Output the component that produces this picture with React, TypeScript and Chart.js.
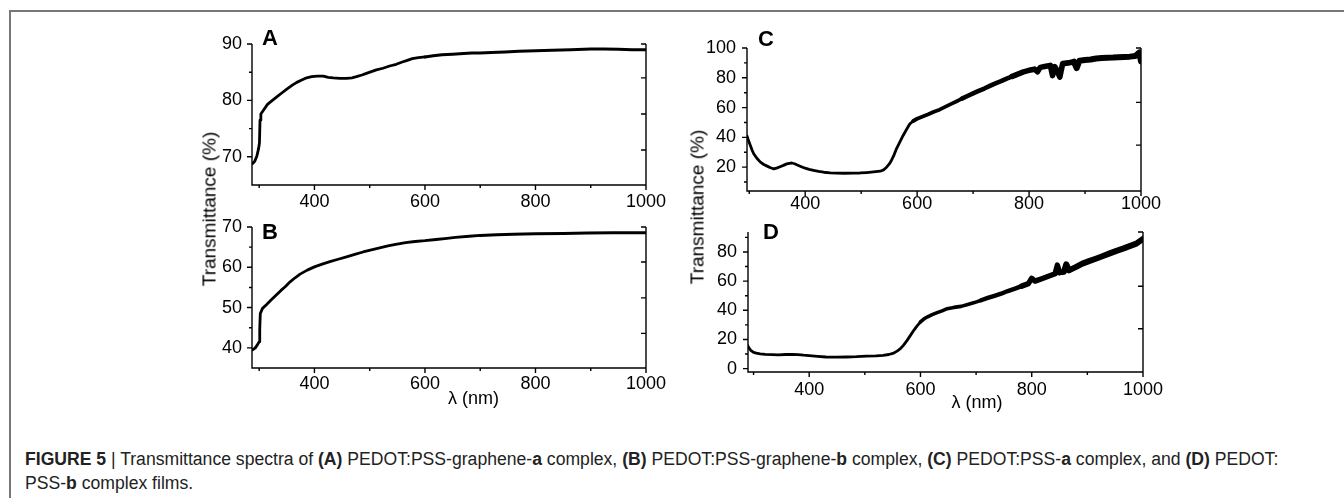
import React, { useEffect, useRef } from 'react';
import { Chart, registerables } from 'chart.js';

Chart.register(...registerables);

// ---------- data ----------
const xA = [288, 292, 296, 299, 300.5, 301.5, 303, 308, 315, 325, 333, 342, 350, 360, 368, 377, 386, 395, 405, 416, 425, 434, 446, 458, 468, 476, 486, 494, 503, 512, 524, 536, 548, 559, 568, 577, 588, 600, 615, 631, 650, 670, 685, 700, 720, 745, 770, 800, 830, 864, 900, 924, 950, 975, 1000];
const yA = [68.8, 69.2, 70.2, 71.5, 72.5, 76.5, 77.6, 78.3, 79.3, 80.1, 80.7, 81.4, 82.0, 82.7, 83.2, 83.6, 84.0, 84.2, 84.3, 84.3, 84.1, 84.0, 83.9, 83.9, 84.0, 84.2, 84.5, 84.8, 85.1, 85.4, 85.7, 86.1, 86.4, 86.8, 87.1, 87.4, 87.6, 87.7, 87.9, 88.1, 88.2, 88.3, 88.4, 88.4, 88.5, 88.6, 88.7, 88.8, 88.9, 89.0, 89.1, 89.1, 89.05, 89.0, 89.0];

const xB = [288, 293, 297, 300, 301, 302, 306, 313, 321, 330, 339, 348, 356, 365, 374, 387, 400, 414, 428, 443, 458, 473, 488, 503, 518, 533, 547, 565, 582, 600, 620, 640, 655, 680, 700, 730, 760, 800, 850, 894, 940, 970, 1000];
const yB = [39.5, 40.0, 40.8, 41.5, 44.5, 48.5, 49.8, 50.7, 51.8, 53.0, 54.2, 55.3, 56.4, 57.4, 58.3, 59.3, 60.1, 60.8, 61.4, 62.0, 62.6, 63.2, 63.8, 64.3, 64.8, 65.3, 65.7, 66.1, 66.4, 66.6, 66.9, 67.2, 67.4, 67.7, 67.9, 68.1, 68.2, 68.3, 68.4, 68.5, 68.6, 68.6, 68.6];

const xC = [296, 299, 302, 305, 308, 314, 320, 326, 332, 338, 344, 350, 355, 361, 367, 372, 376, 381, 385, 392, 400, 407, 415, 424, 433, 445, 456, 470, 486, 498, 510, 522, 534, 540, 545, 550, 554, 558, 563, 569, 575, 581, 587, 593, 600, 610, 620, 630, 640, 650, 660, 670, 680, 690, 700, 710, 720, 730, 740, 750, 760, 770, 780, 790, 800, 810, 815, 820, 830, 838, 842, 846, 850, 855, 860, 870, 880, 885, 890, 900, 910, 920, 930, 940, 950, 960, 970, 980, 990, 997, 1000];
const yC = [41.0, 37.5, 34.6, 31.5, 29.0, 25.8, 23.4, 21.8, 20.7, 19.6, 18.9, 19.5, 20.3, 21.2, 22.2, 22.6, 22.8, 22.3, 21.6, 20.5, 19.3, 18.5, 17.8, 17.1, 16.6, 16.2, 16.0, 15.9, 16.0, 16.1, 16.4, 16.8, 17.3, 18.2, 19.8, 22.0, 24.5, 27.5, 32.3, 36.8, 41.3, 45.3, 49.1, 51.0, 52.5, 54.0, 55.5, 57.2, 58.6, 60.5, 62.3, 64.1, 66.0, 67.8, 69.5, 71.2, 72.8, 74.6, 76.3, 77.8, 79.5, 81.0, 82.5, 84.0, 85.0, 85.8, 84.0, 87.0, 87.8, 88.3, 81.5, 87.5, 85.0, 80.5, 89.5, 90.0, 90.8, 86.5, 91.5, 92.0, 92.3, 93.0, 93.3, 93.5, 93.6, 93.8, 94.0, 94.2, 94.6, 97.0, 91.0];

const xD = [289, 292, 295, 300, 305, 312, 321, 333, 345, 358, 370, 380, 390, 400, 415, 430, 450, 467, 485, 503, 520, 533, 543, 552, 558, 564, 570, 576, 582, 588, 594, 600, 606, 612, 621, 630, 640, 648, 660, 673, 685, 697, 709, 721, 733, 745, 757, 770, 782, 794, 800, 806, 818, 830, 842, 846, 850, 858, 862, 867, 879, 891, 903, 915, 927, 939, 951, 964, 976, 988, 1000];
const yD = [16.0, 14.0, 12.6, 11.2, 10.6, 10.2, 9.8, 9.6, 9.5, 9.7, 9.8, 9.6, 9.2, 8.9, 8.4, 8.0, 7.9, 8.0, 8.2, 8.6, 8.8, 9.1, 9.7, 10.7, 12.0, 13.7, 16.3, 19.4, 22.8, 26.3, 29.3, 32.0, 34.0, 35.4, 37.0, 38.4, 39.8, 41.1, 42.0, 42.7, 44.0, 45.3, 46.9, 48.5, 49.9, 51.4, 53.2, 54.9, 56.6, 58.3, 62.0, 60.0, 61.7, 63.4, 65.1, 71.0, 66.0, 66.5, 71.5, 67.4, 69.6, 72.0, 73.7, 75.4, 77.1, 78.9, 80.6, 82.3, 84.0, 85.7, 89.0];

const xTickLabels = [400, 600, 800, 1000];
const xMinorTicks = [300, 500, 700, 900];
const yTicksA = [70, 80, 90];
const yMinorA = [75, 85];
const yTicksB = [40, 50, 60, 70];
const yMinorB = [45, 55, 65];
const yTicksC = [20, 40, 60, 80, 100];
const yMinorC = [10, 30, 50, 70, 90];
const yTicksD = [0, 20, 40, 60, 80];
const yMinorD = [10, 30, 50, 70, 90];
const rightTicksA = [90, 84, 77.6, 71.2];
const rightTicksB = [70, 61.3, 52.4, 43.6];
const rightTicksC = [100, 63.5, 34.8];
const rightTicksD = [93.7, 56.5, 27.4];

// ---------- layout ----------
const PAD_L = 70, PAD_T = 20, PAD_R = 40, PAD_B = 40;
const FONT = '"Liberation Sans", Arial, Helvetica, sans-serif';

type PanelCfg = {
  xs: number[]; ys: number[];
  left: number; top: number; right: number; bottom: number;
  xMin: number; yMin: number; yMax: number;
  yTicks: number[]; yMinor: number[]; rightTicks: number[];
  xPad: number; yPad: number;
  noise: [number, number][]; // [from nm, line width]
};

const panels: PanelCfg[] = [
  { xs: xA, ys: yA, left: 252, top: 44, right: 646, bottom: 185, xMin: 287, yMin: 65, yMax: 90,
    yTicks: yTicksA, yMinor: yMinorA, rightTicks: rightTicksA, xPad: 6, yPad: 10, noise: [[0, 2.8], [600, 3.0]] },
  { xs: xB, ys: yB, left: 252, top: 227, right: 646, bottom: 368, xMin: 287, yMin: 35, yMax: 70,
    yTicks: yTicksB, yMinor: yMinorB, rightTicks: rightTicksB, xPad: 5, yPad: 10, noise: [[0, 2.8], [700, 3.0]] },
  { xs: xC, ys: yC, left: 747, top: 48, right: 1141, bottom: 191, xMin: 296, yMin: 4, yMax: 100,
    yTicks: yTicksC, yMinor: yMinorC, rightTicks: rightTicksC, xPad: 2, yPad: 11,
    noise: [[0, 2.8], [590, 3.8], [680, 4.6], [770, 5.6], [880, 6.0]] },
  { xs: xD, ys: yD, left: 748, top: 232, right: 1143, bottom: 372, xMin: 290, yMin: -2.3, yMax: 93.7,
    yTicks: yTicksD, yMinor: yMinorD, rightTicks: rightTicksD, xPad: 7, yPad: 11,
    noise: [[0, 2.8], [600, 3.6], [700, 4.4], [780, 5.4], [850, 6.0]] },
];

function Panel({ cfg }: { cfg: PanelCfg }) {
  const ref = useRef<HTMLCanvasElement>(null);
  const w = cfg.right - cfg.left + PAD_L + PAD_R;
  const h = cfg.bottom - cfg.top + PAD_T + PAD_B;

  useEffect(() => {
    const axesPlugin = {
      id: 'axesBox',
      afterDatasetsDraw(chart: any) {
        const { ctx, chartArea: a, scales } = chart;
        const x = scales.x, y = scales.y;
        ctx.save();
        ctx.strokeStyle = '#000';
        ctx.lineWidth = 1.4;
        ctx.beginPath();
        ctx.moveTo(a.left, a.top);
        ctx.lineTo(a.left, a.bottom);
        ctx.lineTo(a.right, a.bottom);
        ctx.lineTo(a.right, a.top);
        for (const v of cfg.yTicks) {
          const p = y.getPixelForValue(v);
          ctx.moveTo(a.left - 5, p); ctx.lineTo(a.left, p);
        }
        for (const v of cfg.yMinor) {
          if (v <= cfg.yMin || v >= cfg.yMax) continue;
          const p = y.getPixelForValue(v);
          ctx.moveTo(a.left - 3, p); ctx.lineTo(a.left, p);
        }
        for (const v of xTickLabels) {
          const p = x.getPixelForValue(v);
          ctx.moveTo(p, a.bottom); ctx.lineTo(p, a.bottom + 5);
        }
        for (const v of xMinorTicks) {
          if (v <= cfg.xMin) continue;
          const p = x.getPixelForValue(v);
          ctx.moveTo(p, a.bottom); ctx.lineTo(p, a.bottom + 3);
        }
        for (const v of cfg.rightTicks) {
          const p = y.getPixelForValue(v);
          ctx.moveTo(a.right, p); ctx.lineTo(a.right - 5, p);
        }
        ctx.stroke();
        ctx.restore();
      },
    };

    const widthAt = (nm: number) => {
      let wd = cfg.noise[0][1];
      for (const [from, lw] of cfg.noise) if (nm >= from) wd = lw;
      return wd;
    };

    const chart = new Chart(ref.current!, {
      type: 'line',
      data: {
        datasets: [{
          data: cfg.xs.map((xv, i) => ({ x: xv, y: cfg.ys[i] })),
          borderColor: '#000',
          borderWidth: 2.8,
          pointRadius: 0,
          tension: 0,
          fill: false,
          borderCapStyle: 'round',
          borderJoinStyle: 'round',
          segment: {
            borderWidth: (c: any) => widthAt(cfg.xs[c.p0DataIndex]),
          },
        } as any],
      },
      options: {
        responsive: false,
        animation: false,
        events: [],
        layout: { padding: { left: 0, top: PAD_T, right: PAD_R, bottom: 0 } },
        plugins: { legend: { display: false }, tooltip: { enabled: false } },
        scales: {
          x: {
            type: 'linear',
            min: cfg.xMin,
            max: 1000,
            grid: { display: false, drawTicks: false },
            border: { display: false },
            ticks: {
              autoSkip: false, maxRotation: 0, padding: cfg.xPad,
              color: '#000', font: { family: FONT, size: 18 },
              callback: (v: any) => String(v),
            },
            afterBuildTicks: (s: any) => { s.ticks = xTickLabels.map((v) => ({ value: v })); },
            afterFit: (s: any) => { s.height = PAD_B; s.paddingLeft = 0; s.paddingRight = 0; },
          },
          y: {
            type: 'linear',
            min: cfg.yMin,
            max: cfg.yMax,
            grid: { display: false, drawTicks: false },
            border: { display: false },
            ticks: {
              autoSkip: false, padding: cfg.yPad,
              color: '#000', font: { family: FONT, size: 18 },
              callback: (v: any) => String(v),
            },
            afterBuildTicks: (s: any) => { s.ticks = cfg.yTicks.map((v) => ({ value: v })); },
            afterFit: (s: any) => { s.width = PAD_L; s.paddingTop = 0; s.paddingBottom = 0; },
          },
        },
      } as any,
      plugins: [axesPlugin],
    });
    return () => chart.destroy();
  }, []);

  return (
    <canvas
      ref={ref}
      width={w}
      height={h}
      style={{ position: 'absolute', left: cfg.left - PAD_L, top: cfg.top - PAD_T, width: w, height: h }}
    />
  );
}

// text placed by its baseline
function T({ x, y, size, bold, center, children, color }: any) {
  return (
    <div
      style={{
        position: 'absolute', left: x, top: y - size * 0.8465, fontSize: size, lineHeight: size + 'px',
        fontFamily: FONT, fontWeight: bold ? 700 : 400, whiteSpace: 'nowrap', color: color || '#000',
        transform: center ? 'translateX(-50%)' : undefined,
      }}
    >
      {children}
    </div>
  );
}

function VTitle({ cx, cy, size }: any) {
  return (
    <div
      style={{
        position: 'absolute', left: cx, top: cy, fontSize: size, lineHeight: 1, fontFamily: FONT,
        whiteSpace: 'nowrap', color: '#000', transform: 'translate(-50%, -50%) rotate(-90deg)',
      }}
    >
      Transmittance (%)
    </div>
  );
}

export default function App() {
  return (
    <div style={{ position: 'fixed', left: 0, top: 0, width: 1344, height: 498, background: '#fff', overflow: 'hidden' }}>
      <div style={{ position: 'absolute', left: 9, top: 10, width: 1340, height: 495, borderTop: '2px solid #777', borderLeft: '2px solid #777' }} />
      {panels.map((p, i) => <Panel key={i} cfg={p} />)}
      <T x={262} y={46} size={22} bold>A</T>
      <T x={262} y={240} size={22} bold>B</T>
      <T x={758} y={46.5} size={22} bold>C</T>
      <T x={763} y={240} size={22} bold>D</T>
      <T x={473.5} y={404.5} size={18} center>λ (nm)</T>
      <T x={977} y={408} size={18} center>λ (nm)</T>
      <VTitle cx={209} cy={209} size={19} />
      <VTitle cx={697} cy={207} size={19} />
      <T x={25} y={466} size={17.6} color="#222">
        <b>FIGURE 5</b> | Transmittance spectra of <b>(A)</b> PEDOT:PSS-graphene-<b>a</b> complex, <b>(B)</b> PEDOT:PSS-graphene-<b>b</b> complex, <b>(C)</b> PEDOT:PSS-<b>a</b> complex, and <b>(D)</b> PEDOT:
      </T>
      <T x={25} y={490} size={17.6} color="#222">
        PSS-<b>b</b> complex films.
      </T>
    </div>
  );
}
